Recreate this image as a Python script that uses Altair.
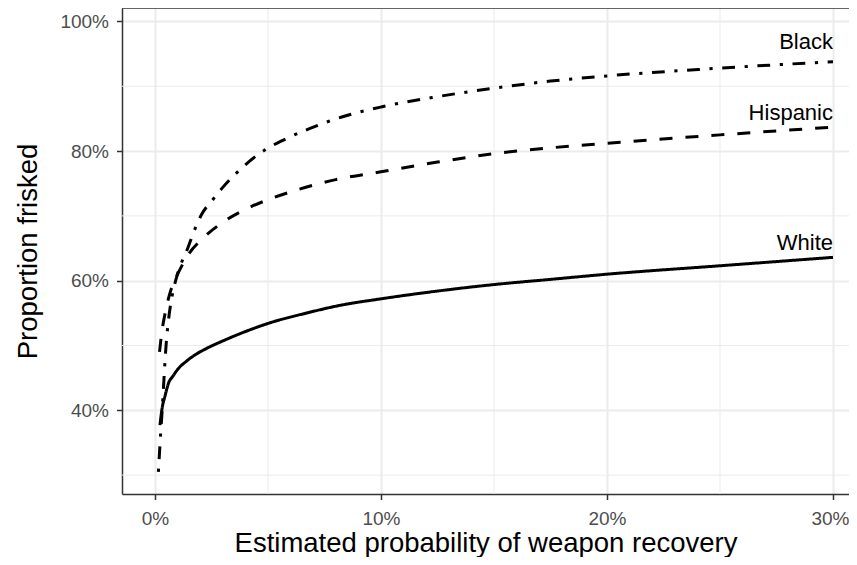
import altair as alt
import pandas as pd

# Estimated probability of weapon recovery (%) and proportion frisked (%)
white_x = [0.22, 0.3, 0.45, 0.6, 0.8, 1.0, 1.4, 1.75, 2.2, 3.0, 3.75, 5.0, 6.7, 8.2, 10, 12.5, 15, 17.5, 20, 25, 30]
white_y = [37.7, 40.0, 42.3, 44.2, 45.3, 46.3, 47.6, 48.5, 49.4, 50.7, 51.8, 53.4, 55.0, 56.2, 57.2, 58.4, 59.4, 60.2, 61.0, 62.3, 63.6]

hisp_x = [0.2, 0.3, 0.45, 0.6, 0.8, 1.0, 1.47, 2.14, 3.17, 4.05, 5, 6.27, 8, 10, 12.5, 15, 20, 25, 30]
hisp_y = [49.0, 52.0, 55.0, 57.3, 59.5, 61.0, 64.0, 66.6, 69.4, 71.1, 72.5, 74.0, 75.6, 76.8, 78.3, 79.6, 81.2, 82.5, 83.7]

black_x = [0.15, 0.2, 0.25, 0.3, 0.35, 0.4, 0.45, 0.5, 0.6, 0.75, 0.96, 1.47, 1.77, 2.06, 2.58, 3.0, 3.6, 4.2, 4.87, 5.68, 6.86, 8.3, 10, 12.5, 15, 17.5, 20, 25, 30]
black_y = [30.5, 33.5, 36.5, 39.0, 42.0, 45.0, 48.0, 50.5, 54.0, 57.5, 60.6, 65.2, 68.0, 70.2, 72.6, 74.4, 76.6, 78.5, 80.2, 81.7, 83.5, 85.3, 86.8, 88.4, 89.7, 90.8, 91.6, 92.8, 93.8]

groups = ["White", "Hispanic", "Black"]
label_x = [30, 30, 30]
label_y = [64.7, 84.8, 95.7]

x_ticks = [0, 10, 20, 30]
y_ticks = [40, 60, 80, 100]
x_minor = [5, 15, 25]
y_minor = [30, 50, 70, 90]

W, H = 727, 486
FONT = "Liberation Sans"

rows = []
for g, xs, ys in [("White", white_x, white_y), ("Hispanic", hisp_x, hisp_y), ("Black", black_x, black_y)]:
    for i, (a, b) in enumerate(zip(xs, ys)):
        rows.append({"group": g, "x": a, "y": b, "order": i})
df = pd.DataFrame(rows)
labels = pd.DataFrame({"group": groups, "x": label_x, "y": label_y})

xscale = alt.Scale(domain=[-1.46, -1.46 + W / 22.6], nice=False, zero=False)
yscale = alt.Scale(domain=[27.08, 102.08], nice=False, zero=False)

xaxis = alt.Axis(values=x_ticks, labelExpr="datum.value + '%'", title="Estimated probability of weapon recovery",
                 labelPadding=10, titlePadding=1,
                 labelOffset=alt.ExprRef(expr="datum.value == 30 ? -3 : 0"))
yaxis = alt.Axis(values=y_ticks, labelExpr="datum.value + '%'", title="Proportion frisked",
                 labelPadding=8, titlePadding=17)

vminor = alt.Chart(pd.DataFrame({"x": x_minor})).mark_rule(color="#EBEBEB", strokeWidth=1).encode(
    x=alt.X("x:Q", scale=xscale, axis=xaxis))
hminor = alt.Chart(pd.DataFrame({"y": y_minor})).mark_rule(color="#EBEBEB", strokeWidth=1).encode(
    y=alt.Y("y:Q", scale=yscale, axis=yaxis))

dash = alt.Scale(domain=["White", "Hispanic", "Black"],
                 range=[[1, 0], [13, 13], [3.2, 9.6, 12.8, 9.6]])

lines = alt.Chart(df).mark_line(color="black", strokeWidth=3, interpolate="monotone", strokeCap="butt").encode(
    x=alt.X("x:Q", scale=xscale, axis=xaxis),
    y=alt.Y("y:Q", scale=yscale, axis=yaxis),
    strokeDash=alt.StrokeDash("group:N", scale=dash, legend=None),
    order="order:Q",
    detail="group:N",
)

text = alt.Chart(labels).mark_text(align="right", baseline="alphabetic", font=FONT, fontSize=22, color="black").encode(
    x=alt.X("x:Q", scale=xscale, axis=xaxis),
    y=alt.Y("y:Q", scale=yscale, axis=yaxis),
    text="group:N",
)

top_border = alt.Chart(pd.DataFrame({"a": [0]})).mark_rule(color="#333333", strokeWidth=1.5).encode(
    x=alt.value(0), x2=alt.value(W), y=alt.value(0))

chart = alt.layer(vminor, hminor, lines, text, top_border).properties(
    width=W, height=H,
    autosize=alt.AutoSizeParams(type="none"),
    padding={"left": 114, "top": 0, "right": 0, "bottom": 63},
).configure_view(stroke=None).configure_axis(
    labelFont=FONT, labelFontSize=19, labelColor="#4D4D4D",
    titleFont=FONT, titleFontSize=27.5, titleFontWeight="normal", titleColor="black",
    tickColor="#333333", tickWidth=1.5, tickSize=5.5,
    domainColor="#333333", domainWidth=1.5,
    gridColor="#EBEBEB", gridWidth=2,
)

chart.save("out.html", embed_options={"renderer": "svg", "actions": False})
